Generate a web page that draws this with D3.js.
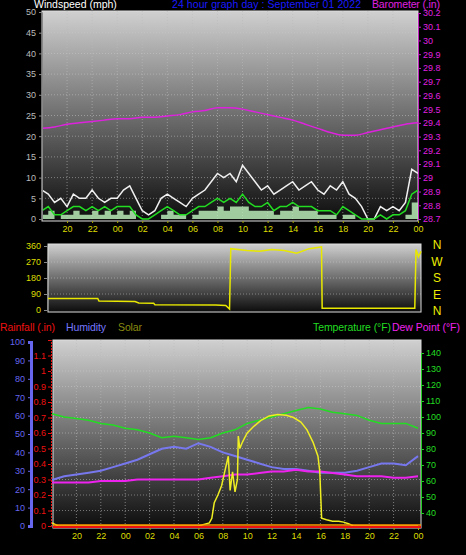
<!DOCTYPE html>
<html><head><meta charset="utf-8">
<script src="https://cdn.jsdelivr.net/npm/d3@7"></script>
<style>body{margin:0;background:#000}text{font-family:"Liberation Sans",Arial,sans-serif}</style>
</head><body>
<script>
// hours since 18:00 of the previous day, tick labels every 2h
const tickLabels = ["20","22","00","02","04","06","08","10","12","14","16","18","20","22","00"]

// wind, half hourly from 18:00
const windGust = [7,6,4,5,3,6,5,5,7,5,4,5,5,7,8,5,2,1,2,5,6,5,4,3,5,6,7,9,11,10,11,9,13,11,9,7,8,6,7,8,9,7,8,9,7,6,8,7,9,6,5,3,0,0,3,2,3,2,4,12,11]
const windAvg = [2,3,1,1,2,3,3,2,3,2,3,2,3,3,3,1,0,0,1,2,3,2,1,1,2,3,3,4,5,4,5,4,6,4,3,3,4,2,3,3,4,3,3,3,2,2,2,1,3,2,1,0,0,0,1,0,1,1,2,6,7]
const windLow = [1,2,0,1,1,2,1,1,2,1,2,1,2,1,2,0,0,0,0,1,2,1,1,0,1,2,2,2,3,2,3,3,3,2,2,2,2,1,2,2,3,2,2,2,1,1,1,0,1,1,0,0,0,0,0,0,0,0,1,4,4]

// hourly from 18:00
const baro = [29.36,29.37,29.39,29.40,29.41,29.42,29.43,29.43,29.44,29.44,29.45,29.46,29.48,29.49,29.51,29.51,29.50,29.48,29.46,29.44,29.42,29.39,29.36,29.33,29.31,29.31,29.33,29.35,29.37,29.39,29.40]
const temp = [102,100,99,98,96,95,93,92,90,87,88,87,86,87,90,92,96,98,100,102,104,106,105,103,102,101,98,96,96,96,93]
const humidity = [25,27,28,29,30,32,34,36,39,42,43,42,45,43,40,38,36,34,32,31,31,30,29,29,29,30,32,34,34,33,38]
const dewPoint = [59,59,59,59,60,60,60,61,61,61,61,61,61,62,63,64,64,65,66,66,67,66,66,65,64,63,63,63,62,62,63]

const dirT = [0,4,4.1,7,7.3,8.5,8.6,13.5,14.3,14.6,14.7,16,17,18,19,20,21,22,22.05,29.5,29.6,29.8,30]
const dirV = [65,65,50,48,40,38,30,28,25,5,345,335,330,340,335,320,345,355,10,10,340,300,330]

const solarT = [0,0.5,12,12.9,13.1,13.3,13.6,13.9,14.1,14.3,14.45,14.6,14.8,15.0,15.2,15.27,15.4,15.6,16,16.5,17.1,17.8,18.5,19.2,19.8,20.4,20.9,21.4,21.8,21.95,22.1,22.5,23,23.5,23.9,24.3,24.7,30]
const solarV = [20,0,0,20,50,150,200,260,330,400,450,230,350,220,300,580,500,540,600,640,680,710,720,715,700,670,620,540,450,350,50,40,30,30,25,15,0,0]

const svg = d3.select("body").append("svg").attr("width",466).attr("height",555)

const defs = svg.append("defs")
const grad = defs.append("linearGradient").attr("id","bg").attr("x1",0).attr("y1",0).attr("x2",0).attr("y2",1)
grad.append("stop").attr("offset","0%").attr("stop-color","#d0d0d0")
grad.append("stop").attr("offset","100%").attr("stop-color","#0c0c0c")

// ---- top panel: wind + barometer
const xW = d3.scaleLinear().domain([0,30]).range([42,418])
const yW = d3.scaleLinear().domain([0,50]).range([219,12])
const yB = d3.scaleLinear().domain([28.7,30.2]).range([219,13])
svg.append("rect").attr("x",42).attr("y",11).attr("width",376).attr("height",210).attr("fill","url(#bg)").attr("stroke","#ddd")
svg.selectAll(".vgw").data(d3.range(2,30,2)).enter().append("line")
  .attr("x1",xW).attr("x2",xW).attr("y1",11).attr("y2",221)
  .attr("stroke","#bbb").attr("stroke-opacity",0.6).attr("stroke-dasharray","1,2")
svg.selectAll(".hgw").data(d3.range(5,50,5)).enter().append("line")
  .attr("x1",42).attr("x2",418).attr("y1",yW).attr("y2",yW)
  .attr("stroke","#ccc").attr("stroke-opacity",0.5).attr("stroke-dasharray","1,2")

const half = (d,i) => xW(i/2)
svg.append("path").datum(windGust).attr("fill","none").attr("stroke","#f0f0f0").attr("stroke-width",1.5)
  .attr("d",d3.line().x(half).y(d=>yW(d)))
svg.append("path").datum(windLow).attr("fill","#b8ecb8").attr("fill-opacity",0.85)
  .attr("d",d3.area().x(half).y0(yW(0)).y1(d=>yW(d)).curve(d3.curveStepAfter))
svg.append("path").datum(windAvg).attr("fill","none").attr("stroke","#22dd22").attr("stroke-width",1.5)
  .attr("d",d3.line().x(half).y(d=>yW(d)))
svg.append("path").datum(baro).attr("fill","none").attr("stroke","#dd22dd").attr("stroke-width",1.5)
  .attr("d",d3.line().x((d,i)=>xW(i)).y(d=>yB(d)).curve(d3.curveMonotoneX))

svg.append("g").attr("transform","translate(42,0)")
  .call(d3.axisLeft(yW).tickValues(d3.range(0,51,5)).tickSize(3).tickPadding(3))
  .call(g=>{g.select(".domain").attr("stroke","#888");g.selectAll("line").attr("stroke","#888");g.selectAll("text").attr("fill","#bbb").attr("font-size",9)})
svg.append("g").attr("transform","translate(418,0)")
  .call(d3.axisRight(yB).tickValues(d3.range(28.7,30.21,0.1)).tickFormat(d=>+d.toFixed(1)).tickSize(3).tickPadding(2))
  .call(g=>{g.select(".domain").attr("stroke","#c020c0");g.selectAll("line").attr("stroke","#c020c0");g.selectAll("text").attr("fill","#e020e0").attr("font-size",9)})
svg.append("g").attr("transform","translate(0,221)")
  .call(d3.axisBottom(xW).tickValues(d3.range(2,31,2)).tickFormat((d,i)=>tickLabels[i]).tickSize(2))
  .call(g=>{g.select(".domain").remove();g.selectAll("line").attr("stroke","#aa0");g.selectAll("text").attr("fill","#dddd00").attr("font-size",9)})

svg.append("text").attr("x",34).attr("y",8).attr("fill","#fff").attr("font-size",10.5).text("Windspeed (mph)")
svg.append("text").attr("x",172).attr("y",8).attr("fill","#1a1aff").attr("font-size",10.5).attr("textLength",189).text("24 hour graph day : September 01 2022")
svg.append("text").attr("x",372).attr("y",8).attr("fill","#e020e0").attr("font-size",10.5).attr("textLength",68).text("Barometer (.in)")

// ---- direction panel
const xD = d3.scaleLinear().domain([0,30]).range([48,421])
const yD = d3.scaleLinear().domain([0,360]).range([310,246])
svg.append("rect").attr("x",48).attr("y",244).attr("width",373).attr("height",68).attr("fill","url(#bg)").attr("stroke","#ddd")
svg.selectAll(".dg").data([90,180,270]).enter().append("line")
  .attr("x1",48).attr("x2",421).attr("y1",yD).attr("y2",yD).attr("stroke","#ccc").attr("stroke-opacity",0.5).attr("stroke-dasharray","1,2")
svg.append("path").datum(dirT).attr("fill","none").attr("stroke","#e8e800").attr("stroke-width",1.5)
  .attr("d",d3.line().x(d=>xD(d)).y((d,i)=>yD(dirV[i])))
svg.append("g").attr("transform","translate(47,0)")
  .call(d3.axisLeft(yD).tickValues([0,90,180,270,360]).tickSize(3).tickPadding(3))
  .call(g=>{g.select(".domain").attr("stroke","#888");g.selectAll("line").attr("stroke","#888");g.selectAll("text").attr("fill","#dddd00").attr("font-size",9)})
svg.selectAll(".compass").data(["N","W","S","E","N"]).enter().append("text")
  .attr("x",437).attr("y",(d,i)=>249+i*16.5).attr("fill","#eeee00").attr("font-size",12).attr("text-anchor","middle").text(d=>d)

// legend row
const legend = [["Rainfall (.in)","#ee1111",0,55],["Humidity","#7777ff",66,40],["Solar","#8a8a10",118,24],["Temperature (°F)","#22dd22",313,78],["Dew Point (°F)","#ee22ee",392,68]]
svg.selectAll(".leg").data(legend).enter().append("text")
  .attr("x",d=>d[2]).attr("y",331).attr("fill",d=>d[1]).attr("font-size",10.5).attr("textLength",d=>d[3]).text(d=>d[0])

// ---- bottom panel
const xT = d3.scaleLinear().domain([0,30]).range([52,418])
const yH = d3.scaleLinear().domain([0,100]).range([526,342])
const yR = d3.scaleLinear().domain([0,1.2]).range([526,340])
const yT = d3.scaleLinear().domain([40,140]).range([513,353])
const yS = d3.scaleLinear().domain([0,1200]).range([526,340])
svg.append("rect").attr("x",53).attr("y",340).attr("width",368).attr("height",188).attr("fill","url(#bg)").attr("stroke","#ddd")
svg.selectAll(".bvg").data(d3.range(2,30,2)).enter().append("line")
  .attr("x1",xT).attr("x2",xT).attr("y1",340).attr("y2",528).attr("stroke","#bbb").attr("stroke-opacity",0.6).attr("stroke-dasharray","1,2")
svg.selectAll(".bhg").data(d3.range(0.1,1.2,0.1)).enter().append("line")
  .attr("x1",53).attr("x2",421).attr("y1",yR).attr("y2",yR).attr("stroke","#ccc").attr("stroke-opacity",0.5).attr("stroke-dasharray","1,2")

const hr = (d,i) => xT(i)
svg.append("path").datum(humidity).attr("fill","none").attr("stroke","#7777ee").attr("stroke-width",2)
  .attr("d",d3.line().x(hr).y(d=>yH(d)))
svg.append("path").datum(dewPoint).attr("fill","none").attr("stroke","#ee22ee").attr("stroke-width",2)
  .attr("d",d3.line().x(hr).y(d=>yT(d)))
svg.append("path").datum(temp).attr("fill","none").attr("stroke","#22dd22").attr("stroke-width",1.5)
  .attr("d",d3.line().x(hr).y(d=>yT(d)))
svg.append("path").datum(solarT).attr("fill","none").attr("stroke","#eeee22").attr("stroke-width",1.5)
  .attr("d",d3.line().x(d=>xT(d)).y((d,i)=>yS(solarV[i])))
svg.append("line").attr("x1",53).attr("x2",421).attr("y1",yR(0)+1).attr("y2",yR(0)+1).attr("stroke","#ee1111").attr("stroke-width",2)
svg.append("line").attr("x1",53).attr("x2",421).attr("y1",yR(0)-1).attr("y2",yR(0)-1).attr("stroke","#ff9900").attr("stroke-width",1.5)

svg.append("g").attr("transform","translate(31,0)")
  .call(d3.axisLeft(yH).tickValues(d3.range(0,101,10)).tickSize(3).tickPadding(3))
  .call(g=>{g.select(".domain").attr("stroke","#6666ee").attr("stroke-width",3);g.selectAll("line").attr("stroke","#6666ee");g.selectAll("text").attr("fill","#6666ee").attr("font-size",9)})
svg.append("g").attr("transform","translate(51,0)")
  .call(d3.axisLeft(yR).tickValues(d3.range(0,1.21,0.1)).tickFormat(d=>d>1.15?"":+d.toFixed(1)).tickSize(3).tickPadding(2))
  .call(g=>{g.select(".domain").attr("stroke","#ee1111").attr("stroke-dasharray","2,1");g.selectAll("line").attr("stroke","#ee1111");g.selectAll("text").attr("fill","#ee1111").attr("font-size",9)})
svg.append("g").attr("transform","translate(421,0)")
  .call(d3.axisRight(yT).tickValues(d3.range(40,141,10)).tickSize(3).tickPadding(2))
  .call(g=>{g.select(".domain").attr("stroke","#22cc22");g.selectAll("line").attr("stroke","#22cc22");g.selectAll("text").attr("fill","#22dd22").attr("font-size",9)})
svg.append("g").attr("transform","translate(0,528)")
  .call(d3.axisBottom(xT).tickValues(d3.range(2,31,2)).tickFormat((d,i)=>tickLabels[i]).tickSize(2))
  .call(g=>{g.select(".domain").remove();g.selectAll("line").attr("stroke","#aa0");g.selectAll("text").attr("fill","#dddd00").attr("font-size",9)})
</script>
</body></html>
